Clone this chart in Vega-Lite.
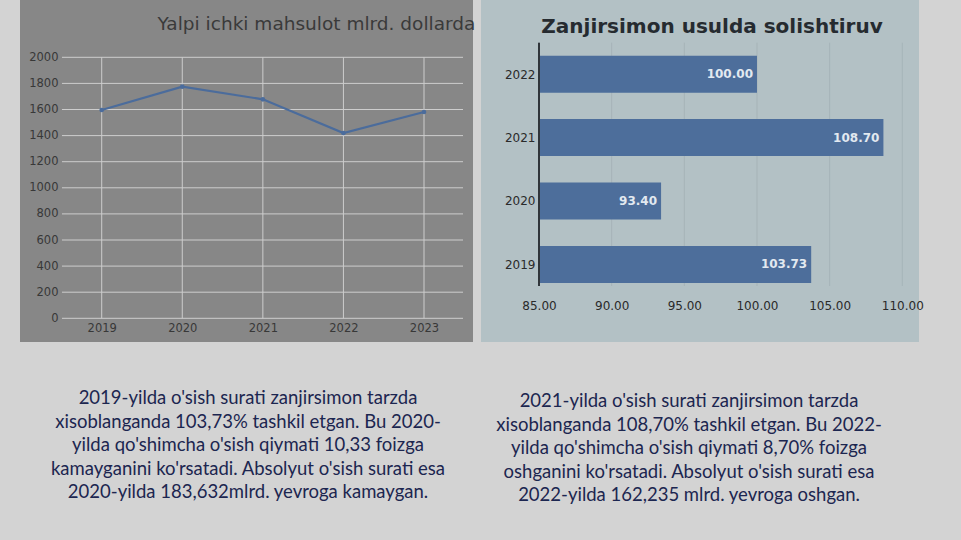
{
  "$schema": "https://vega.github.io/schema/vega-lite/v6.json",
  "background": "#d3d3d3",
  "padding": {"left": 20, "top": 0, "right": 59, "bottom": 0},
  "spacing": 0,
  "config": {
    "font": "DejaVu Sans",
    "view": {"stroke": null},
    "concat": {"spacing": 0}
  },
  "vconcat": [
    {
      "hconcat": [
        {
          "width": 453,
          "height": 342,
          "view": {"fill": "#878787", "stroke": null},
          "resolve": {"axis": {"x": "independent", "y": "independent"}},
          "title": {
            "text": "Yalpi ichki mahsulot mlrd. dollarda",
            "font": "DejaVu Sans",
            "fontSize": 18.5,
            "fontWeight": "normal",
            "color": "#3a3a3a",
            "anchor": "middle",
            "frame": "group",
            "baseline": "alphabetic",
            "offset": -31,
            "dx": 70,
            "dy": 17
          },
          "data": {"values": [
            {"year": 2019, "gdp": 1596},
            {"year": 2020, "gdp": 1775},
            {"year": 2021, "gdp": 1678},
            {"year": 2022, "gdp": 1420},
            {"year": 2023, "gdp": 1581}
          ]},
          "layer": [
            {
              "data": {"values": [
                {"v": 0}, {"v": 200}, {"v": 400}, {"v": 600}, {"v": 800}, {"v": 1000},
                {"v": 1200}, {"v": 1400}, {"v": 1600}, {"v": 1800}, {"v": 2000}
              ]},
              "mark": {"type": "rule", "color": "#cdcdcd", "strokeWidth": 1},
              "encoding": {
                "y": {
                  "field": "v", "type": "quantitative",
                  "scale": {"domain": [-181.6, 2439.1], "nice": false, "zero": false},
                  "axis": {
                    "orient": "left",
                    "values": [0, 200, 400, 600, 800, 1000, 1200, 1400, 1600, 1800, 2000],
                    "format": "d",
                    "title": null, "grid": false, "domain": false, "ticks": false,
                    "labelPadding": 4, "offset": -42,
                    "labelFont": "DejaVu Sans", "labelFontSize": 11.5, "labelColor": "#383838"
                  }
                },
                "x": {"datum": 2018.507, "type": "quantitative", "axis": null},
                "x2": {"datum": 2023.484}
              }
            },
            {
              "mark": {"type": "rule", "color": "#cdcdcd", "strokeWidth": 1},
              "encoding": {
                "x": {"field": "year", "type": "quantitative", "axis": null},
                "y": {"datum": 0, "type": "quantitative", "axis": null},
                "y2": {"datum": 2000}
              }
            },
            {
              "mark": {"type": "line", "color": "#4b6c9c", "strokeWidth": 2.2,
                       "point": {"filled": true, "size": 22, "color": "#4b6c9c"}},
              "encoding": {
                "x": {
                  "field": "year", "type": "quantitative",
                  "scale": {"domain": [2017.986, 2023.608], "nice": false, "zero": false},
                  "axis": {
                    "orient": "bottom",
                    "values": [2019, 2020, 2021, 2022, 2023], "format": "d",
                    "title": null, "grid": false, "domain": false, "ticks": false,
                    "labelPadding": 4, "offset": -24,
                    "labelFont": "DejaVu Sans", "labelFontSize": 11.5, "labelColor": "#383838"
                  }
                },
                "y": {"field": "gdp", "type": "quantitative", "axis": null}
              }
            }
          ]
        },
        {
          "width": 438,
          "height": 342,
          "view": {"fill": "#b3c1c5", "stroke": null},
          "resolve": {"axis": {"x": "independent", "y": "independent"}},
          "title": {
            "text": "Zanjirsimon usulda solishtiruv",
            "font": "DejaVu Sans",
            "fontSize": 20,
            "fontWeight": "bold",
            "color": "#262b30",
            "anchor": "middle",
            "frame": "group",
            "baseline": "alphabetic",
            "offset": -31,
            "dx": 12,
            "dy": 22
          },
          "data": {"values": [
            {"year": 2022, "value": 100.00},
            {"year": 2021, "value": 108.70},
            {"year": 2020, "value": 93.40},
            {"year": 2019, "value": 103.73}
          ]},
          "layer": [
            {
              "data": {"values": [{"t": 90}, {"t": 95}, {"t": 100}, {"t": 105}, {"t": 110}]},
              "mark": {"type": "rule", "color": "#a6b4b8", "strokeWidth": 1},
              "encoding": {
                "x": {
                  "field": "t", "type": "quantitative",
                  "scale": {"domain": [81.008, 111.149], "nice": false, "zero": false, "padding": 0},
                  "axis": {
                    "orient": "bottom",
                    "values": [85, 90, 95, 100, 105, 110], "format": ".2f",
                    "title": null, "grid": false, "domain": false, "ticks": false,
                    "labelPadding": 14, "offset": -56,
                    "labelFont": "DejaVu Sans", "labelFontSize": 12, "labelColor": "#2a2a2a"
                  }
                },
                "y": {
                  "datum": 2022.497, "type": "quantitative",
                  "scale": {"domain": [2017.776, 2023.170], "nice": false, "zero": false, "padding": 0},
                  "axis": null
                },
                "y2": {"datum": 2018.659}
              }
            },
            {
              "mark": {"type": "bar", "color": "#4d6e9b", "size": 37, "orient": "horizontal"},
              "encoding": {
                "x": {"field": "value", "type": "quantitative", "axis": null},
                "x2": {"datum": 85},
                "y": {
                  "field": "year", "type": "quantitative",
                  "axis": {
                    "orient": "left",
                    "values": [2019, 2020, 2021, 2022], "format": "d",
                    "title": null, "grid": false, "domain": false, "ticks": false,
                    "labelPadding": 4, "offset": -58,
                    "labelFont": "DejaVu Sans", "labelFontSize": 12, "labelColor": "#2a2a2a"
                  }
                }
              }
            },
            {
              "transform": [{"filter": "datum.year == 2019"}],
              "mark": {"type": "rule", "color": "#30353a", "strokeWidth": 2},
              "encoding": {
                "x": {"datum": 85, "type": "quantitative", "axis": null},
                "y": {"datum": 2022.497, "type": "quantitative", "axis": null},
                "y2": {"datum": 2018.659}
              }
            },
            {
              "mark": {"type": "text", "align": "right", "baseline": "middle", "dx": -4,
                       "font": "DejaVu Sans", "fontSize": 12, "fontWeight": "bold", "color": "#e2e9f0"},
              "encoding": {
                "x": {"field": "value", "type": "quantitative", "axis": null},
                "y": {"field": "year", "type": "quantitative", "axis": null},
                "text": {"field": "value", "type": "quantitative", "format": ".2f"}
              }
            }
          ]
        }
      ],
      "spacing": 8,
      "bounds": "flush"
    },
    {
      "hconcat": [
        {
          "width": 456,
          "height": 198,
          "data": {"values": [
            {"text": "2019-yilda o'sish surati zanjirsimon tarzda\nxisoblanganda 103,73% tashkil etgan. Bu 2020-\nyilda qo'shimcha o'sish qiymati 10,33 foizga\nkamayganini ko'rsatadi. Absolyut o'sish surati esa\n2020-yilda 183,632mlrd. yevroga kamaygan."}
          ]},
          "mark": {"type": "text", "font": "Lato", "fontSize": 18.5, "color": "#1c2650",
                   "align": "center", "baseline": "middle", "lineBreak": "\n", "lineHeight": 23.6, "dy": -43},
          "encoding": {"text": {"field": "text", "type": "nominal"}}
        },
        {
          "width": 426,
          "height": 198,
          "data": {"values": [
            {"text": "2021-yilda o'sish surati zanjirsimon tarzda\nxisoblanganda 108,70% tashkil etgan. Bu 2022-\nyilda qo'shimcha o'sish qiymati 8,70% foizga\noshganini ko'rsatadi. Absolyut o'sish surati esa\n2022-yilda 162,235 mlrd. yevroga oshgan."}
          ]},
          "mark": {"type": "text", "font": "Lato", "fontSize": 18.5, "color": "#1c2650",
                   "align": "center", "baseline": "middle", "lineBreak": "\n", "lineHeight": 23.6, "dy": -40},
          "encoding": {"text": {"field": "text", "type": "nominal"}}
        }
      ],
      "spacing": 0
    }
  ]
}
